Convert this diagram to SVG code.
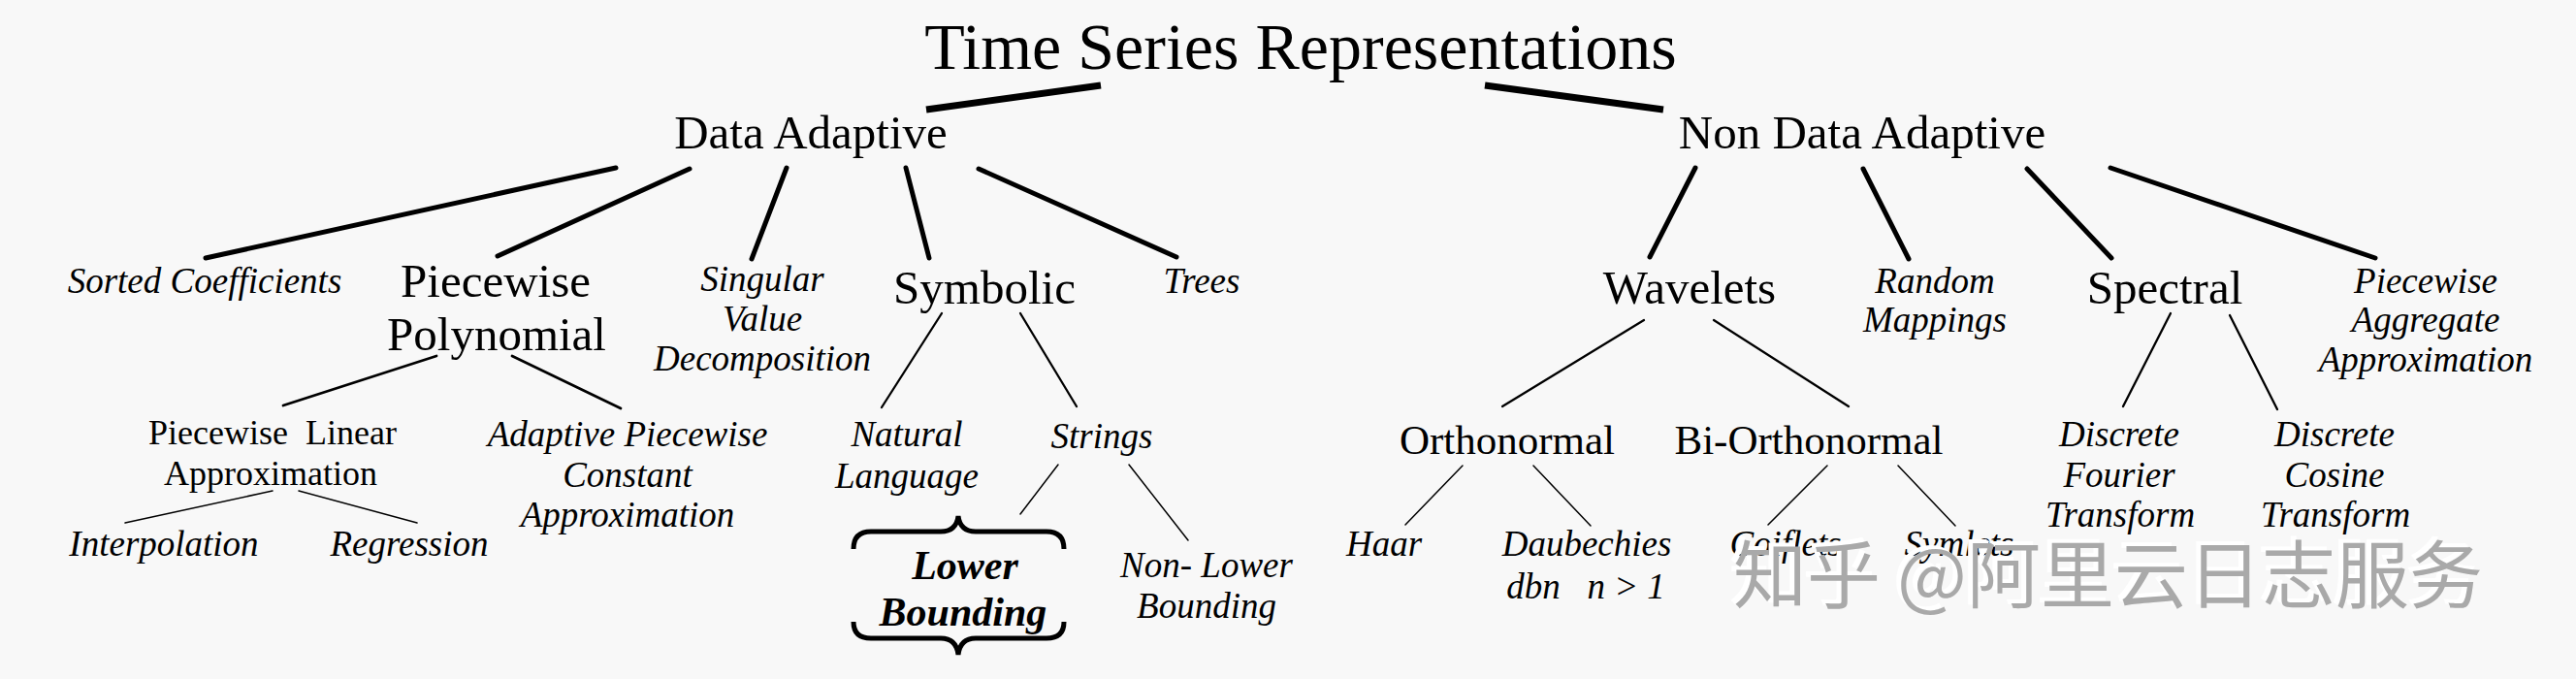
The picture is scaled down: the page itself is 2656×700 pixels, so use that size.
<svg xmlns="http://www.w3.org/2000/svg" width="2656" height="700" viewBox="0 0 2656 700">
<style>
.tx text{font-family:'Liberation Serif','Times New Roman',serif;fill:#000;text-anchor:middle}
.tx .t0{font-size:68px}
.tx .r1{font-size:49px}
.tx .r3{font-size:43px}
.tx .r3s{font-size:36px}
.tx .it{font-size:37px;font-style:italic}
.tx .bi{font-size:42px;font-style:italic;font-weight:bold}
.c{stroke:#000;fill:none}
.w7{stroke-width:7;stroke-linecap:butt}
.w5{stroke-width:5;stroke-linecap:round}
.w3{stroke-width:2.8;stroke-linecap:round}
.w2{stroke-width:2.3;stroke-linecap:round}
.w1{stroke-width:1.5;stroke-linecap:round}
.wm{font-family:'Noto Sans CJK SC','Noto Sans',sans-serif;font-size:76px}
</style>
<rect width="2656" height="700" fill="#f8f8f8"/>
<g id="connectors" class="c">
<line class="w7" x1="1135" y1="88" x2="955" y2="113"/>
<line class="w7" x1="1531" y1="88" x2="1715" y2="113"/>
<line class="w5" x1="635" y1="173" x2="212" y2="266"/>
<line class="w5" x1="711" y1="174" x2="513" y2="264"/>
<line class="w5" x1="811" y1="173" x2="775" y2="267"/>
<line class="w5" x1="934" y1="173" x2="958" y2="266"/>
<line class="w5" x1="1009" y1="174" x2="1213" y2="265"/>
<line class="w5" x1="1748" y1="173" x2="1701" y2="265"/>
<line class="w5" x1="1921" y1="174" x2="1968" y2="267"/>
<line class="w5" x1="2090" y1="174" x2="2177" y2="266"/>
<line class="w5" x1="2176" y1="173" x2="2449" y2="266"/>
<line class="w3" x1="450" y1="367" x2="292" y2="418"/>
<line class="w3" x1="528" y1="367" x2="640" y2="421"/>
<line class="w2" x1="971" y1="323" x2="909" y2="420"/>
<line class="w2" x1="1052" y1="323" x2="1110" y2="419"/>
<line class="w2" x1="1695" y1="330" x2="1549" y2="419"/>
<line class="w2" x1="1767" y1="330" x2="1906" y2="419"/>
<line class="w2" x1="2238" y1="323" x2="2189" y2="419"/>
<line class="w2" x1="2299" y1="325" x2="2348" y2="422"/>
<line class="w1" x1="281" y1="506" x2="129" y2="539"/>
<line class="w1" x1="308" y1="506" x2="430" y2="539"/>
<line class="w1" x1="1091" y1="479" x2="1052" y2="530"/>
<line class="w1" x1="1164" y1="479" x2="1225" y2="557"/>
<line class="w1" x1="1508" y1="480" x2="1449" y2="541"/>
<line class="w1" x1="1581" y1="480" x2="1640" y2="542"/>
<line class="w1" x1="1884" y1="480" x2="1823" y2="541"/>
<line class="w1" x1="1957" y1="480" x2="2016" y2="542"/>
</g>
<g class="tx">
<g id="n-root"><text class="t0" x="1341" y="71">Time Series Representations</text></g>
<g id="n-da"><text class="r1" x="836" y="153">Data Adaptive</text></g>
<g id="n-nda"><text class="r1" x="1920" y="153">Non Data Adaptive</text></g>
<g id="n-sorted"><text class="it" x="211" y="302">Sorted Coefficients</text></g>
<g id="n-pp"><text class="r1" x="511" y="306">Piecewise</text><text class="r1" x="512" y="361">Polynomial</text></g>
<g id="n-svd"><text class="it" x="786" y="300">Singular</text><text class="it" x="786" y="341">Value</text><text class="it" x="786" y="382">Decomposition</text></g>
<g id="n-symbolic"><text class="r1" x="1015" y="313">Symbolic</text></g>
<g id="n-trees"><text class="it" x="1239" y="302">Trees</text></g>
<g id="n-wavelets"><text class="r1" x="1742" y="313">Wavelets</text></g>
<g id="n-random"><text class="it" x="1995" y="302">Random</text><text class="it" x="1995" y="342">Mappings</text></g>
<g id="n-spectral"><text class="r1" x="2232" y="313">Spectral</text></g>
<g id="n-paa"><text class="it" x="2501" y="302">Piecewise</text><text class="it" x="2501" y="342">Aggregate</text><text class="it" x="2501" y="383">Approximation</text></g>
<g id="n-pla"><text class="r3s" x="281" y="458" xml:space="preserve">Piecewise  Linear</text><text class="r3s" x="279" y="500">Approximation</text></g>
<g id="n-apca"><text class="it" x="647" y="460">Adaptive Piecewise</text><text class="it" x="647" y="502">Constant</text><text class="it" x="647" y="543">Approximation</text></g>
<g id="n-natural"><text class="it" x="935" y="460">Natural</text><text class="it" x="935" y="503">Language</text></g>
<g id="n-strings"><text class="it" x="1136" y="462">Strings</text></g>
<g id="n-ortho"><text class="r3" x="1554" y="468">Orthonormal</text></g>
<g id="n-biortho"><text class="r3" x="1865" y="468">Bi-Orthonormal</text></g>
<g id="n-dft"><text class="it" x="2185" y="460">Discrete</text><text class="it" x="2185" y="502">Fourier</text><text class="it" x="2186" y="543">Transform</text></g>
<g id="n-dct"><text class="it" x="2407" y="460">Discrete</text><text class="it" x="2407" y="502">Cosine</text><text class="it" x="2408" y="543">Transform</text></g>
<g id="n-interp"><text class="it" x="169" y="573">Interpolation</text></g>
<g id="n-regr"><text class="it" x="422" y="573">Regression</text></g>
<g id="n-lb">
<path class="c" stroke-width="5" d="M880 566 Q880 548 898 548 L970 548 Q986 548 988 532 Q990 548 1006 548 L1079 548 Q1097 548 1097 566"/>
<text class="bi" x="995" y="597">Lower</text><text class="bi" x="993" y="645">Bounding</text>
<path class="c" stroke-width="5" d="M880 641 Q880 658 898 658 L970 658 Q986 658 988 675 Q990 658 1006 658 L1079 658 Q1097 658 1097 641"/>
</g>
<g id="n-nlb"><text class="it" x="1244" y="595">Non- Lower</text><text class="it" x="1244" y="637">Bounding</text></g>
<g id="n-haar"><text class="it" x="1427" y="573">Haar</text></g>
<g id="n-daub"><text class="it" x="1636" y="573">Daubechies</text><text class="it" x="1635" y="617" xml:space="preserve">dbn   n &gt; 1</text></g>
<g id="n-coiflets"><text class="it" x="1841" y="573">Coiflets</text></g>
<g id="n-symlets"><text class="it" x="2020" y="573">Symlets</text></g>
</g>
<g id="watermark">
<text class="wm" x="1782" y="617" fill="#ffffff">知乎 @阿里云日志服务</text>
<text class="wm" x="1787" y="621" fill="#a9a9a9">知乎 @阿里云日志服务</text>
</g>
</svg>
